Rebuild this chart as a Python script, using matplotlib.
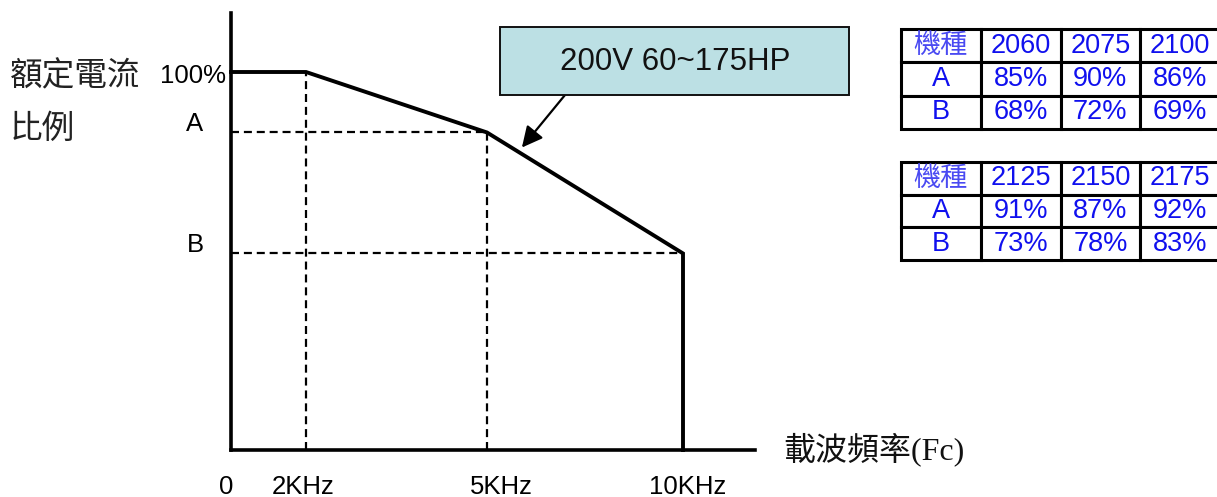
import numpy as np
import matplotlib
matplotlib.use('Agg')
import matplotlib.pyplot as plt
from matplotlib.patches import Rectangle

# ---------------- data ----------------
freq_khz = [0, 2, 5, 10, 10]            # derating curve, carrier frequency (kHz)
current_pct = [100, 100, 84, 52, 0]      # rated current ratio (%), A≈84, B≈52 on the schematic
level_labels = ['100%', 'A', 'B']
level_values = [100, 84, 52]
x_tick_khz = [0, 2, 5, 10]
x_tick_labels = ['0', '2KHz', '5KHz', '10KHz']
box_text = '200V 60~175HP'
table_header = '機種'
row_names = ['A', 'B']
models_1 = ['2060', '2075', '2100']
A_1 = ['85%', '90%', '86%']
B_1 = ['68%', '72%', '69%']
models_2 = ['2125', '2150', '2175']
A_2 = ['91%', '87%', '92%']
B_2 = ['73%', '78%', '83%']

# ---------------- layout / style ----------------
W, H = 1217, 497
fig = plt.figure(figsize=(W / 100, H / 100), dpi=100)
LAT = 'Liberation Sans'
CJK = 'Noto Sans CJK TC'

def fx(px):
    return px / W

def fy(py):
    return 1 - py / H

# schematic (non-linear) frequency axis
knots_k = np.array([0, 2, 5, 10, 20], dtype=float)
knots_p = np.array([0, 75, 256, 452, 844], dtype=float)
fwd = lambda x: np.interp(x, knots_k, knots_p)
inv = lambda p: np.interp(p, knots_p, knots_k)

ax = fig.add_axes([fx(231), fy(450), 524 / W, 437 / H])
ax.set_xscale('function', functions=(fwd, inv))
ax.set_xlim(0, inv(524))
ax.set_ylim(0, 437 / 378 * 100)
for s in ('top', 'right'):
    ax.spines[s].set_visible(False)
for s in ('left', 'bottom'):
    ax.spines[s].set_linewidth(2.6)
    ax.spines[s].set_capstyle('projecting')
ax.set_xticks([])
ax.set_yticks([])
ax.minorticks_off()
ax.patch.set_alpha(0)

# dashed guide lines
dash_kw = dict(color='k', lw=1.6, dashes=(3.6, 2.2), zorder=2, clip_on=False)
for i in (1, 2):
    ax.plot([freq_khz[i]] * 2, [0, current_pct[i]], **dash_kw)
for i in (2, 3):
    ax.plot([0, freq_khz[i]], [current_pct[i]] * 2, **dash_kw)

# derating curve
ax.plot(freq_khz, current_pct, color='k', lw=2.8, zorder=3,
        solid_joinstyle='miter', clip_on=False)

# y level labels
pt = 72 / 100
FS = 18.5
ax.annotate(level_labels[0], xy=(0, level_values[0]), xycoords=('axes fraction', 'data'),
            xytext=(-5 * pt, -4 * pt), textcoords='offset points',
            ha='right', va='center', fontsize=FS, family=LAT)
for lab, val in zip(level_labels[1:], level_values[1:]):
    ax.annotate(lab, xy=(0, val), xycoords=('axes fraction', 'data'),
                xytext=(-36 * pt, 8 * pt), textcoords='offset points',
                ha='center', va='center', fontsize=FS, family=LAT)

# x tick labels (schematic offsets as in the original)
x_off = [-5, -3, 14, 5]
for k, lab, off in zip(x_tick_khz, x_tick_labels, x_off):
    ax.annotate(lab, xy=(k, 0), xycoords=('data', 'axes fraction'),
                xytext=(off * pt, -37 * pt), textcoords='offset points',
                ha='center', va='center', fontsize=FS, family=LAT)

# axis titles
fig.text(fx(10), fy(76), '額定電流', ha='left', va='center', fontsize=23.5,
         family=[CJK], color='#222222')
fig.text(fx(10), fy(129), '比例', ha='left', va='center', fontsize=23.5,
         family=[CJK], color='#222222')
fig.text(fx(783), fy(449), '載波頻率(Fc)', ha='left', va='center', fontsize=23,
         family=['Liberation Serif', CJK], color='#111111')

# annotation box + arrow
fig.patches.append(Rectangle((fx(500), fy(95)), 349 / W, 68 / H, transform=fig.transFigure,
                             facecolor='#bce0e4', edgecolor='#111111', lw=1.4, zorder=1))
fig.text(fx(675), fy(62), box_text, ha='center', va='center', fontsize=22.5,
         family=LAT, color='#111111')
xt = 5.8
yt = float(np.interp(xt, freq_khz[2:4], current_pct[2:4]))
ax.annotate('', xy=(xt, yt), xycoords='data',
            xytext=(fx(565), fy(95)), textcoords='figure fraction',
            arrowprops=dict(arrowstyle='-|>,head_length=0.7,head_width=0.35',
                            color='k', lw=1.6, mutation_scale=18,
                            shrinkA=0, shrinkB=4))

# tables
BLUE = '#1010ee'
HBLUE = '#4a4af2'

def draw_table(top_px, bottom_px, models, a_vals, b_vals):
    tax = fig.add_axes([fx(901), fy(bottom_px), 319 / W, (bottom_px - top_px) / H])
    tax.axis('off')
    cells = [[table_header] + models,
             [row_names[0]] + a_vals,
             [row_names[1]] + b_vals]
    tb = tax.table(cellText=cells, cellLoc='center', bbox=[0, 0, 1, 1])
    tb.auto_set_font_size(False)
    for (r, c), cell in tb.get_celld().items():
        cell.set_linewidth(2.2)
        cell.set_edgecolor('k')
        cell.set_facecolor('white')
        txt = cell.get_text()
        if r == 0 and c == 0:
            txt.set_fontfamily([CJK])
            txt.set_fontsize(19.5)
            txt.set_color(HBLUE)
        else:
            txt.set_fontfamily(LAT)
            txt.set_fontsize(19.5)
            txt.set_color(BLUE)
    return tb

draw_table(29, 129, models_1, A_1, B_1)
draw_table(162, 260, models_2, A_2, B_2)

fig.savefig('out.png', dpi=100)
